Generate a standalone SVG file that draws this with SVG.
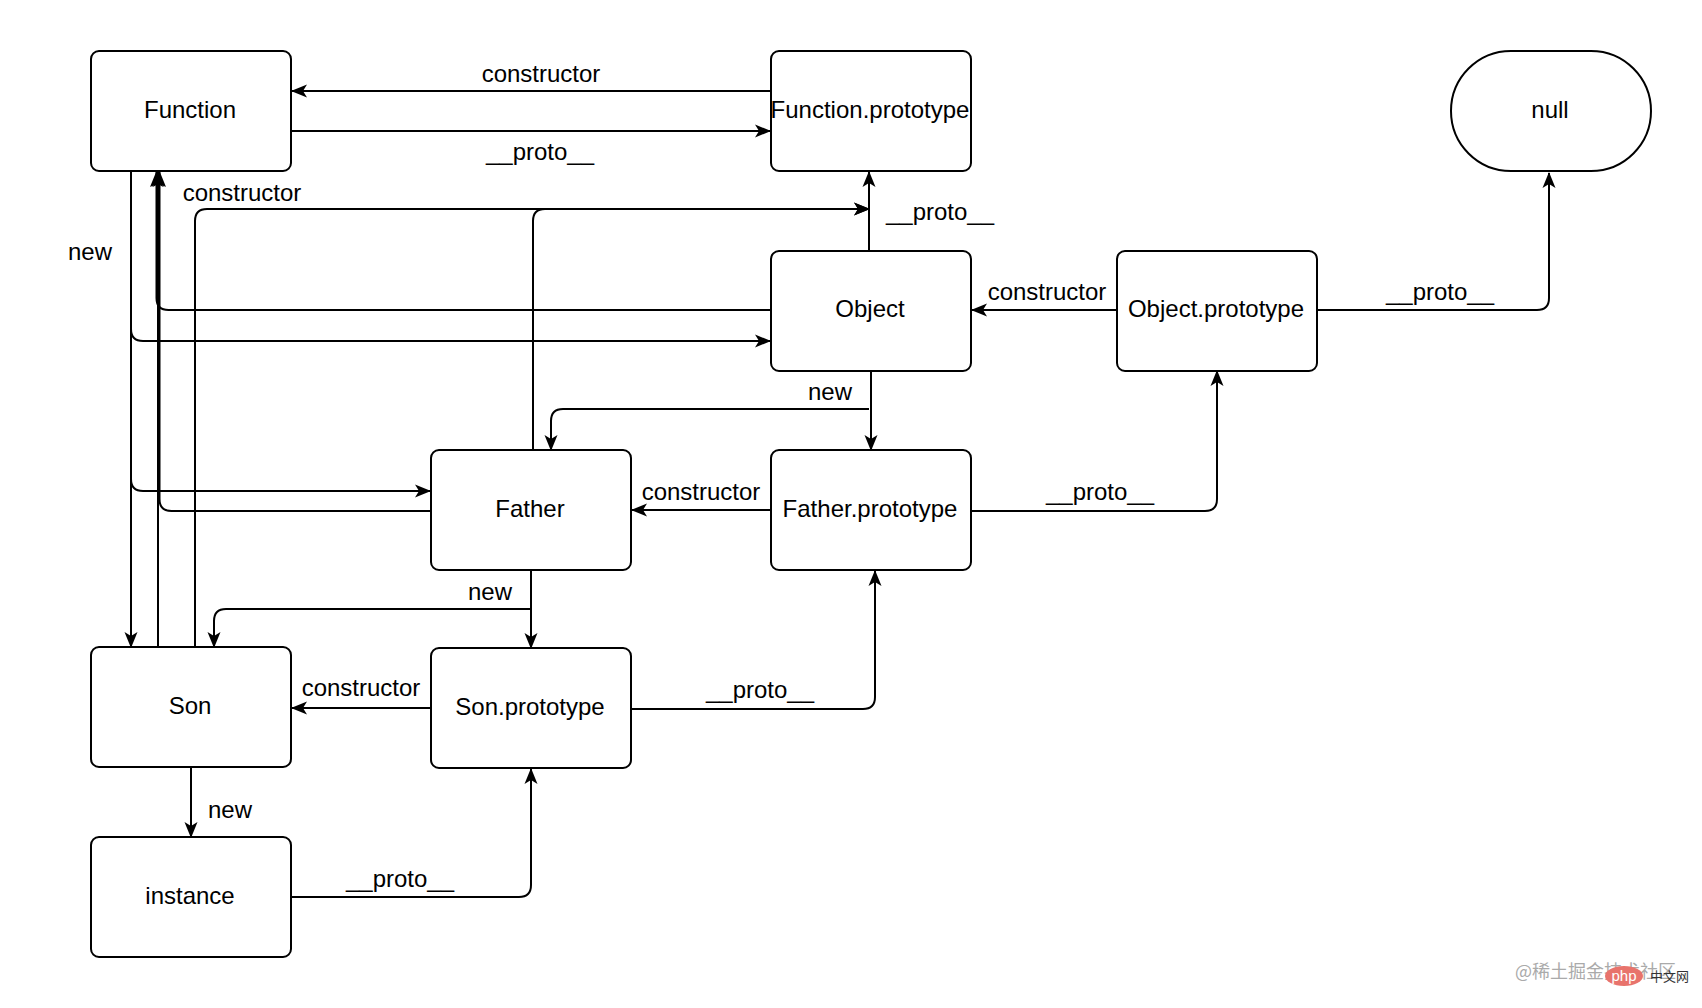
<svg xmlns="http://www.w3.org/2000/svg" width="1702" height="1008" viewBox="0 0 1702 1008">
  <style>
    .node rect { fill: #ffffff; stroke: #000000; stroke-width: 2; }
    .node text { font-family: "Liberation Sans", Arial, Helvetica, sans-serif; font-size: 24px; fill: #000000; text-anchor: middle; }
    .edge { fill: none; stroke: #000000; stroke-width: 2; marker-end: url(#arrow); }
    .lbl { font-family: "Liberation Sans", Arial, Helvetica, sans-serif; font-size: 24px; fill: #000000; text-anchor: middle; }
  </style>
  <defs>
    <marker id="arrow" viewBox="0 0 16 14" refX="15" refY="7" markerWidth="16" markerHeight="14" markerUnits="userSpaceOnUse" orient="auto">
      <path d="M0,0.5 L16,7 L0,13.5 L4,7 Z" fill="#000000"/>
    </marker>
  </defs>
  <rect x="0" y="0" width="1702" height="1008" fill="#ffffff"/>

  <g id="connectors">
    <path class="edge" d="M771,91 L292,91"/>
    <path class="edge" d="M291,131 L770,131"/>
    <path class="edge" d="M869,251 L869,172"/>
    <path class="edge" d="M771,310 L168.5,310 Q156.5,310 156.5,298 L156.5,172"/>
    <path class="edge" d="M131,171 L131,329 Q131,341 143,341 L770,341"/>
    <path class="edge" d="M131,171 L131,479 Q131,491 143,491 L430,491"/>
    <path class="edge" d="M131,171 L131,647"/>
    <path class="edge" d="M431,511 L171.5,511 Q159.5,511 159.5,499 L159.5,172"/>
    <path class="edge" d="M158,647 L158,172"/>
    <path class="edge" d="M195,647 L195,221 Q195,209 207,209 L869,209"/>
    <path class="edge" d="M533,450 L533,221 Q533,209 545,209 L869,209"/>
    <path class="edge" d="M1117,310 L972,310"/>
    <path class="edge" d="M1317,310 L1537,310 Q1549,310 1549,298 L1549,173"/>
    <path class="edge" d="M871,371 L871,450"/>
    <path class="edge" d="M869,409 L563,409 Q551,409 551,421 L551,450"/>
    <path class="edge" d="M771,510 L632,510"/>
    <path class="edge" d="M971,511 L1205,511 Q1217,511 1217,499 L1217,371"/>
    <path class="edge" d="M531,570 L531,648"/>
    <path class="edge" d="M531,609 L226,609 Q214,609 214,621 L214,647"/>
    <path class="edge" d="M431,708 L292,708"/>
    <path class="edge" d="M631,709 L863,709 Q875,709 875,697 L875,571"/>
    <path class="edge" d="M191,767 L191,837"/>
    <path class="edge" d="M291,897 L519,897 Q531,897 531,885 L531,769"/>

    <text class="lbl" x="541" y="82">constructor</text>
    <text class="lbl" x="540" y="160">__proto__</text>
    <text class="lbl" x="242" y="201">constructor</text>
    <text class="lbl" x="90" y="260">new</text>
    <text class="lbl" x="940" y="220">__proto__</text>
    <text class="lbl" x="1047" y="300">constructor</text>
    <text class="lbl" x="1440" y="300">__proto__</text>
    <text class="lbl" x="830" y="400">new</text>
    <text class="lbl" x="701" y="500">constructor</text>
    <text class="lbl" x="1100" y="500">__proto__</text>
    <text class="lbl" x="490" y="600">new</text>
    <text class="lbl" x="361" y="696">constructor</text>
    <text class="lbl" x="760" y="698">__proto__</text>
    <text class="lbl" x="230" y="818">new</text>
    <text class="lbl" x="400" y="887">__proto__</text>
  </g>

  <g id="node-function" class="node">
    <rect x="91" y="51" width="200" height="120" rx="8"/>
    <text x="190" y="118">Function</text>
  </g>
  <g id="node-function-prototype" class="node">
    <rect x="771" y="51" width="200" height="120" rx="8"/>
    <text x="870" y="118">Function.prototype</text>
  </g>
  <g id="node-null" class="node">
    <rect x="1451" y="51" width="200" height="120" rx="60" ry="60"/>
    <text x="1550" y="118">null</text>
  </g>
  <g id="node-object" class="node">
    <rect x="771" y="251" width="200" height="120" rx="8"/>
    <text x="870" y="317">Object</text>
  </g>
  <g id="node-object-prototype" class="node">
    <rect x="1117" y="251" width="200" height="120" rx="8"/>
    <text x="1216" y="317">Object.prototype</text>
  </g>
  <g id="node-father" class="node">
    <rect x="431" y="450" width="200" height="120" rx="8"/>
    <text x="530" y="517">Father</text>
  </g>
  <g id="node-father-prototype" class="node">
    <rect x="771" y="450" width="200" height="120" rx="8"/>
    <text x="870" y="517">Father.prototype</text>
  </g>
  <g id="node-son" class="node">
    <rect x="91" y="647" width="200" height="120" rx="8"/>
    <text x="190" y="714">Son</text>
  </g>
  <g id="node-son-prototype" class="node">
    <rect x="431" y="648" width="200" height="120" rx="8"/>
    <text x="530" y="715">Son.prototype</text>
  </g>
  <g id="node-instance" class="node">
    <rect x="91" y="837" width="200" height="120" rx="8"/>
    <text x="190" y="904">instance</text>
  </g>

  <g id="watermark">
    <text x="1515" y="978" font-family="'Noto Sans CJK SC', sans-serif" font-size="18" fill="#aaaaaa">@稀土掘金技术社区</text>
    <ellipse cx="1624" cy="976" rx="19" ry="10" fill="#e8736c"/>
    <text x="1624" y="981" font-family="'Liberation Sans', Arial, sans-serif" font-size="15" fill="#ffffff" text-anchor="middle">php</text>
    <text x="1650" y="981" font-family="'Noto Sans CJK SC', sans-serif" font-size="13" fill="#333333">中文网</text>
  </g>
</svg>
